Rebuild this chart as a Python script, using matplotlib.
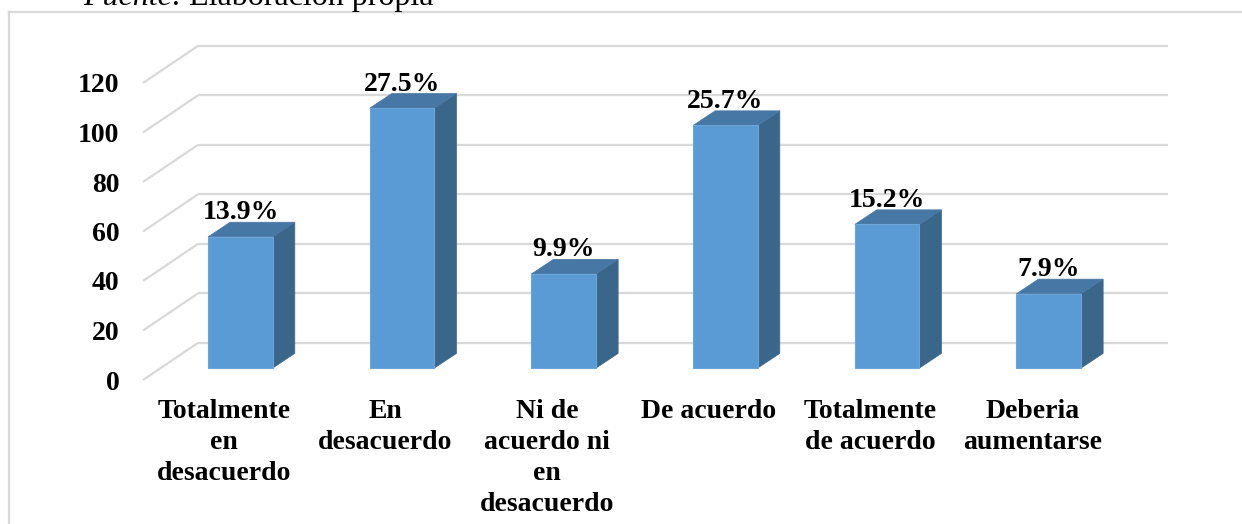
import matplotlib
matplotlib.use('Agg')
import matplotlib.pyplot as plt
from matplotlib.patches import Polygon
from matplotlib.lines import Line2D

plt.rcParams['font.family'] = ['Liberation Serif', 'DejaVu Serif']

# Datos
categorias = ['Totalmente\nen\ndesacuerdo', 'En\ndesacuerdo', 'Ni de\nacuerdo ni\nen\ndesacuerdo',
              'De acuerdo', 'Totalmente\nde acuerdo', 'Deberia\naumentarse']
frecuencias = [53, 105, 38, 98, 58, 30]
porcentajes = ['13.9%', '27.5%', '9.9%', '25.7%', '15.2%', '7.9%']
ticks_y = [0, 20, 40, 60, 80, 100, 120]

# Colores estilo Excel 3D
c_frente = '#5B9BD5'
c_lado = '#3A6689'
c_tapa = '#4777A5'
c_grid = '#D9D9D9'

# Geometria de la perspectiva (en unidades de datos)
fondo_dx, fondo_dy = 0.34, 15.0     # desplazamiento de la pared del fondo
barra_dx, barra_dy = 0.103, 4.85    # desplazamiento de la cara frontal de las barras
prof_dx, prof_dy = 0.136, 5.9       # profundidad de las barras
ancho = 0.40
tam = 20

fig = plt.figure(figsize=(12.42, 5.24), dpi=100)
ax = fig.add_axes([143 / 1242, 1 - 380 / 524, 970 / 1242, 297 / 524])
ax.set_xlim(-0.5, len(categorias) - 0.5)
ax.set_ylim(0, 120)

# Lineas de cuadricula (pared lateral y de fondo)
x_izq, x_der = -0.5, len(categorias) - 0.5
for v in ticks_y:
    ax.plot([x_izq, x_izq + fondo_dx], [v, v + fondo_dy], color=c_grid, lw=1.6,
            clip_on=False, zorder=1, solid_capstyle='butt')
    ax.plot([x_izq + fondo_dx, x_der + fondo_dx], [v + fondo_dy, v + fondo_dy],
            color=c_grid, lw=1.6, clip_on=False, zorder=1, solid_capstyle='butt')

# Barras 3D
for i, (v, p) in enumerate(zip(frecuencias, porcentajes)):
    xl = i - ancho / 2 + barra_dx
    xr = i + ancho / 2 + barra_dx
    y0 = barra_dy
    y1 = v + barra_dy
    frente = Polygon([(xl, y0), (xr, y0), (xr, y1), (xl, y1)], closed=True,
                     facecolor=c_frente, edgecolor='#6BA5DA', lw=0.8, clip_on=False, zorder=3)
    lado = Polygon([(xr, y0), (xr + prof_dx, y0 + prof_dy), (xr + prof_dx, y1 + prof_dy), (xr, y1)],
                   closed=True, facecolor=c_lado, edgecolor=c_lado, lw=0.5, clip_on=False, zorder=3)
    tapa = Polygon([(xl, y1), (xr, y1), (xr + prof_dx, y1 + prof_dy), (xl + prof_dx, y1 + prof_dy)],
                   closed=True, facecolor=c_tapa, edgecolor=c_tapa, lw=0.5, clip_on=False, zorder=3)
    ax.add_patch(lado)
    ax.add_patch(tapa)
    ax.add_patch(frente)
    ax.text(i + barra_dx, y1 + prof_dy + 1.2, p, ha='center', va='baseline',
            fontsize=tam, fontweight='bold', zorder=4)

for s in ax.spines.values():
    s.set_visible(False)
ax.set_facecolor('none')
ax.set_yticks(ticks_y)
ax.set_yticklabels([str(t) for t in ticks_y], fontsize=tam, fontweight='bold')
ax.set_xticks(range(len(categorias)))
ax.set_xticklabels(categorias, fontsize=tam, fontweight='bold', linespacing=1.3)
ax.tick_params(axis='y', length=0, pad=17)
ax.tick_params(axis='x', length=0, pad=14)

# Borde del area del grafico
fig.add_artist(Line2D([9 / 1242, 1], [1 - 12 / 524, 1 - 12 / 524], color=c_grid, lw=1.6,
                      transform=fig.transFigure))
fig.add_artist(Line2D([9 / 1242, 9 / 1242], [0, 1 - 12 / 524], color=c_grid, lw=1.6,
                      transform=fig.transFigure))

# Fuente (cortada arriba, como en el original)
fig.text(83 / 1242, 1 - 5 / 524, 'Fuente:', fontsize=23, style='italic', va='baseline', ha='left')
fig.text(189 / 1242, 1 - 5 / 524, 'Elaboración propia', fontsize=23, va='baseline', ha='left')

fig.savefig('out.png', dpi=100)
